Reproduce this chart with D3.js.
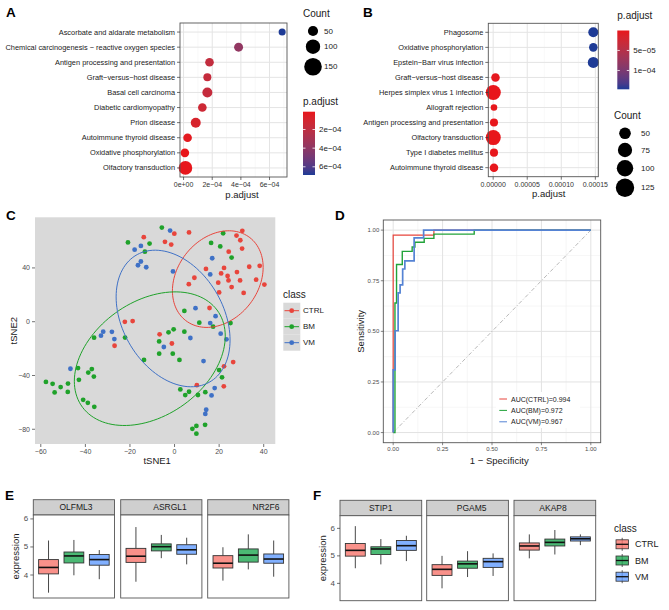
<!DOCTYPE html>
<html>
<head>
<meta charset="utf-8">
<script src="https://cdn.jsdelivr.net/npm/d3@7"></script>
<style>
  body { margin: 0; background: #fff; }
  svg { font-family: "Liberation Sans", Arial, Helvetica, sans-serif; }
</style>
</head>
<body>
<svg id="fig" width="669" height="610"></svg>
<script>
// ---------- data: panel A (KEGG enrichment) ----------
var termsA = ["Ascorbate and aldarate metabolism", "Chemical carcinogenesis \u2212 reactive oxygen species",
  "Antigen processing and presentation", "Graft\u2212versus\u2212host disease", "Basal cell carcinoma",
  "Diabetic cardiomyopathy", "Prion disease", "Autoimmune thyroid disease", "Oxidative phosphorylation",
  "Olfactory transduction"];
var padjA = [6.88e-4, 3.84e-4, 1.81e-4, 1.66e-4, 1.66e-4, 1.31e-4, 0.85e-4, 0.28e-4, 0.09e-4, 0.13e-4];
var countA = [24, 39, 36, 31, 48, 36, 48, 36, 36, 90];
var ticksA = [0, 2e-4, 4e-4, 6e-4];
var tickLabelsA = ["0e+00", "2e\u221204", "4e\u221204", "6e\u221204"];
var barTicksA = [2e-4, 4e-4, 6e-4];
var barLabelsA = ["2e\u221204", "4e\u221204", "6e\u221204"];
var countBreaksA = [50, 100, 150];

// ---------- data: panel B ----------
var termsB = ["Phagosome", "Oxidative phosphorylation", "Epstein\u2212Barr virus infection",
  "Graft\u2212versus\u2212host disease", "Herpes simplex virus 1 infection", "Allograft rejection",
  "Antigen processing and presentation", "Olfactory transduction", "Type I diabetes mellitus",
  "Autoimmune thyroid disease"];
var padjB = [1.47e-4, 1.47e-4, 1.47e-4, 0.34e-5, 0.02e-5, 0.12e-5, 0.12e-5, 0.02e-5, 0.12e-5, 0.12e-5];
var countB = [37, 27, 45, 27, 83, 16, 24, 83, 24, 27];
var ticksB = [0, 5e-5, 1e-4, 1.5e-4];
var tickLabelsB = ["0.00000", "0.00005", "0.00010", "0.00015"];
var barTicksB = [5e-5, 1e-4];
var barLabelsB = ["5e\u221205", "1e\u221204"];
var countBreaksB = [50, 75, 100, 125];

// ---------- data: panel C (tSNE) ----------
var classes = ["CTRL", "BM", "VM"];
var tsneCTRL = [[-0.1,65.5],[6.5,66.4],[-13.8,62.9],[-4.3,59.4],[-1.5,57.4],[30.4,67.6],[27.8,64.1],[29.5,60.6],
  [30.3,54.4],[24.3,52.1],[33.5,40.9],[38.2,41.6],[22.2,40.0],[14.1,39.3],[28.0,36.9],[20.9,35.9],[23.8,34.0],
  [8.9,32.7],[24.2,30.7],[29.4,30.7],[36.6,31.3],[19.6,29.0],[6.4,27.9],[40.3,27.6],[25.6,25.8],[31.0,21.4],
  [20.0,21.8],[15.7,10.2],[-22.3,-0.1],[-18.8,0.5],[-6.7,-9.4],[-26.9,-17.9],[-1.2,-16.2],[26.3,-30.0],
  [22.2,-33.2],[10.0,-47.2],[22.1,-48.1]];
var tsneBM = [[-5.7,70.0],[-20.9,59.0],[-11.2,58.1],[-13.3,52.1],[21.8,65.8],[16.4,58.6],[20.5,56.0],[25.6,47.7],
  [4.4,8.0],[11.1,-0.7],[17.3,-3.7],[25.1,-1.0],[-2.7,-7.9],[-0.4,-5.7],[4.4,-7.4],[-22.2,-11.8],[-36.1,-11.9],
  [-6.9,-14.7],[-6.9,-23.8],[-0.8,-23.8],[2.2,-28.4],[-13.7,-28.4],[20.0,-36.0],[-43.3,-34.5],[-37.1,-35.2],
  [-38.7,-37.8],[-36.2,-40.8],[-42.9,-43.2],[21.3,-41.4],[-57.7,-44.8],[-54.7,-46.2],[-51.1,-48.6],[-47.8,-46.0],
  [-53.8,-52.6],[-47.9,-52.2],[2.6,-50.4],[6.5,-52.1],[13.8,-52.4],[4.8,-54.6],[10.5,-54.5],[-41.0,-58.1],
  [-38.9,-60.3],[-36.0,-63.3],[13.7,-76.7],[9.8,-77.5],[8.0,-79.7],[9.8,-83.3]];
var tsneVM = [[-2.0,67.8],[-15.1,56.4],[-17.9,53.6],[-15.1,44.8],[-16.4,42.0],[-12.7,40.5],[-0.7,37.4],[16.9,47.2],
  [16.0,35.2],[9.4,10.1],[18.4,4.1],[16.0,-1.0],[20.7,-8.9],[7.1,-12.1],[23.3,-13.1],[-4.8,-18.8],[-27.0,-12.9],
  [-33.0,-10.4],[-32.0,-7.4],[-28.1,-7.5],[-46.7,-35.0],[13.0,-29.3],[18.0,-49.4],[16.6,-54.8],[14.2,-65.5],
  [13.8,-68.6]];
// ellipse centre and covariance [sxx, sxy, syy], in tSNE units
var ellipseCenter = [[19.4, 31.7], [-11.1, -27.5], [-0.65, 2.4]];
var ellipseCov = [[414, 178, 1292], [1146, 568, 2470], [653, -410, 2581]];
var ticksCx = [-60, -40, -20, 0, 20, 40];
var ticksCy = [-80, -40, 0, 40];

// ---------- data: panel D (ROC) ----------
var rocFprCTRL = [0, 0.206, 1];
var rocTprCTRL = [0, 0.975, 1];
var rocFprBM = [0, 0.009, 0.017, 0.046, 0.096, 0.11, 0.157, 0.206, 0.41, 1];
var rocTprBM = [0, 0, 0.64, 0.83, 0.895, 0.917, 0.94, 0.959, 0.98, 1];
var rocFprVM = [0, 0.01, 0.025, 0.035, 0.048, 0.059, 0.106, 0.154, 1];
var rocTprVM = [0, 0.31, 0.503, 0.69, 0.73, 0.808, 0.848, 0.962, 1];
var aucLabels = ["AUC(CTRL)=0.994", "AUC(BM)=0.972", "AUC(VM)=0.967"];
var ticksD = [0, 0.25, 0.5, 0.75, 1];

// ---------- data: panels E, F (boxplots: [low whisker, q1, median, q3, high whisker]) ----------
var genesE = ["OLFML3", "ASRGL1", "NR2F6"];
var boxE = [
  [[3.37, 4.04, 4.27, 4.55, 5.23], [3.99, 4.43, 4.68, 4.82, 5.25], [3.85, 4.35, 4.55, 4.73, 4.89]],
  [[3.76, 4.45, 4.67, 4.95, 5.71], [4.60, 4.86, 5.01, 5.11, 5.43], [4.38, 4.74, 4.90, 5.08, 5.33]],
  [[3.80, 4.25, 4.42, 4.69, 4.99], [4.20, 4.46, 4.71, 4.93, 5.45], [3.94, 4.42, 4.57, 4.75, 5.23]]];
var genesF = ["STIP1", "PGAM5", "AKAP8"];
var boxF = [
  [[4.55, 4.99, 5.20, 5.45, 6.08], [4.69, 5.05, 5.25, 5.33, 5.61], [4.81, 5.20, 5.37, 5.56, 5.73]],
  [[3.82, 4.29, 4.51, 4.68, 5.00], [4.23, 4.55, 4.71, 4.81, 5.17], [4.27, 4.58, 4.79, 4.91, 5.09]],
  [[4.91, 5.21, 5.36, 5.47, 5.78], [5.05, 5.36, 5.49, 5.61, 5.94], [5.39, 5.54, 5.62, 5.69, 5.78]]];
var ticksBox = [4, 5, 6];

// ---------- styles ----------
var pointColors = {CTRL: "#e8453c", BM: "#1fa22a", VM: "#3f71c6"};
var rocColors = {CTRL: "#e8453c", BM: "#22a33a", VM: "#5583d4"};
var boxFill = {CTRL: "#F8766D", BM: "#1ea851", VM: "#619CFF"};
var lowCol = "#e8161b", highCol = "#1e3b96";

var svg = d3.select("#fig");

function label(g, x, y, s, size, opt) {
  opt = opt || {};
  return g.append("text").attr("x", x).attr("y", y).text(s)
    .attr("font-size", size)
    .attr("fill", opt.fill || "#1a1a1a")
    .attr("text-anchor", opt.anchor || "start")
    .attr("font-weight", opt.weight || "normal")
    .attr("dominant-baseline", "central");
}

// ================= A & B: dot plots =================
function dotPanel(cfg) {
  var g = svg.append("g");
  var n = cfg.terms.length;
  var lo = d3.min(cfg.padj), hi = d3.max(cfg.padj), pad = (hi - lo) * 0.05;
  var x = d3.scaleLinear().domain([lo - pad, hi + pad]).range([cfg.left, cfg.right]);
  var y = d3.scaleLinear().domain([0.4, n + 0.6]).range([cfg.top, cfg.bottom]);
  var size = d3.scaleSqrt().domain([0, cfg.sizeMax]).range([0, cfg.rMax]);
  var color = d3.scaleLinear().domain([lo, hi]).range([lowCol, highCol]).interpolate(d3.interpolateLab);

  var step = cfg.ticks[1] - cfg.ticks[0];
  var minor = d3.range(cfg.ticks[0] - step / 2, hi + pad, step).filter(function(v) { return v > lo - pad; });
  g.selectAll(".minor").data(minor).enter().append("line")
    .attr("x1", x).attr("x2", x).attr("y1", cfg.top).attr("y2", cfg.bottom)
    .attr("stroke", "#f0f0f0").attr("stroke-width", 0.5);
  g.selectAll(".vmaj").data(cfg.ticks).enter().append("line")
    .attr("x1", x).attr("x2", x).attr("y1", cfg.top).attr("y2", cfg.bottom)
    .attr("stroke", "#e4e4e4").attr("stroke-width", 1);
  g.selectAll(".hmaj").data(cfg.terms).enter().append("line")
    .attr("x1", cfg.left).attr("x2", cfg.right)
    .attr("y1", function(d, i) { return y(i + 1); }).attr("y2", function(d, i) { return y(i + 1); })
    .attr("stroke", "#e4e4e4").attr("stroke-width", 1);

  g.selectAll("circle.pt").data(cfg.terms).enter().append("circle")
    .attr("cx", function(d, i) { return x(cfg.padj[i]); })
    .attr("cy", function(d, i) { return y(i + 1); })
    .attr("r", function(d, i) { return size(cfg.counts[i]); })
    .attr("fill", function(d, i) { return color(cfg.padj[i]); });

  g.append("rect").attr("x", cfg.left).attr("y", cfg.top)
    .attr("width", cfg.right - cfg.left).attr("height", cfg.bottom - cfg.top)
    .attr("fill", "none").attr("stroke", "#555").attr("stroke-width", 0.9);

  // y axis labels
  cfg.terms.forEach(function(t, i) {
    g.append("line").attr("x1", cfg.left - 3).attr("x2", cfg.left)
      .attr("y1", y(i + 1)).attr("y2", y(i + 1)).attr("stroke", "#333").attr("stroke-width", 0.7);
    label(g, cfg.left - 5, y(i + 1), t, 7.4, {anchor: "end"});
  });
  // x axis
  cfg.ticks.forEach(function(t, i) {
    g.append("line").attr("x1", x(t)).attr("x2", x(t))
      .attr("y1", cfg.bottom).attr("y2", cfg.bottom + 3).attr("stroke", "#333").attr("stroke-width", 0.7);
    label(g, x(t), cfg.bottom + 7.5, cfg.tickLabels[i], 7, {anchor: "middle", fill: "#333"});
  });
  label(g, cfg.titleX, cfg.bottom + 17, "p.adjust", 9.5, {anchor: "middle"});

  // colour bar
  var bar = cfg.bar;
  var gid = "grad" + cfg.id;
  var grad = svg.append("defs").append("linearGradient").attr("id", gid)
    .attr("x1", 0).attr("y1", 0).attr("x2", 0).attr("y2", 1);
  d3.range(0, 1.0001, 0.1).forEach(function(f) {
    grad.append("stop").attr("offset", f).attr("stop-color", color(lo + f * (hi - lo)));
  });
  label(g, bar.x, bar.titleY, "p.adjust", 10, {});
  g.append("rect").attr("x", bar.x).attr("y", bar.top).attr("width", 12)
    .attr("height", bar.bottom - bar.top).attr("fill", "url(#" + gid + ")");
  var by = d3.scaleLinear().domain([lo, hi]).range([bar.top, bar.bottom]);
  cfg.barTicks.forEach(function(t, i) {
    g.append("line").attr("x1", bar.x).attr("x2", bar.x + 2.5).attr("y1", by(t)).attr("y2", by(t))
      .attr("stroke", "#fff").attr("stroke-width", 0.8);
    g.append("line").attr("x1", bar.x + 9.5).attr("x2", bar.x + 12).attr("y1", by(t)).attr("y2", by(t))
      .attr("stroke", "#fff").attr("stroke-width", 0.8);
    label(g, bar.x + 16, by(t), cfg.barLabels[i], 8, {});
  });

  // size legend
  var sl = cfg.sizeLegend;
  label(g, sl.x, sl.titleY, "Count", 10, {});
  cfg.countBreaks.forEach(function(c, i) {
    g.append("circle").attr("cx", sl.cx).attr("cy", sl.ys[i]).attr("r", size(c)).attr("fill", "#000");
    label(g, sl.lx, sl.ys[i], String(c), 8, {});
  });
}

dotPanel({
  id: "A", terms: termsA, padj: padjA, counts: countA, ticks: ticksA, tickLabels: tickLabelsA,
  left: 180, right: 287, top: 23, bottom: 177, titleX: 242, sizeMax: 150, rMax: 8.8,
  bar: {x: 303, top: 111.7, bottom: 175, titleY: 101.5}, barTicks: barTicksA, barLabels: barLabelsA,
  sizeLegend: {x: 303, titleY: 13.5, cx: 313, lx: 324, ys: [31, 46.7, 66.7]}, countBreaks: countBreaksA
});
dotPanel({
  id: "B", terms: termsB, padj: padjB, counts: countB, ticks: ticksB, tickLabels: tickLabelsB,
  left: 488.3, right: 598.3, top: 23.3, bottom: 176.7, titleX: 548.7, sizeMax: 125, rMax: 9.2,
  bar: {x: 617.3, top: 30.5, bottom: 89.3, titleY: 15}, barTicks: barTicksB, barLabels: barLabelsB,
  sizeLegend: {x: 614, titleY: 115.7, cx: 625, lx: 641, ys: [133.3, 150, 168.3, 187.7]}, countBreaks: countBreaksB
});

// ================= C: tSNE =================
function tsnePanel() {
  var g = svg.append("g");
  var L = 35, R = 275.3, T = 217.3, B = 444;
  var all = tsneCTRL.concat(tsneBM, tsneVM);
  var xe = d3.extent(all, function(d) { return d[0]; }), ye = d3.extent(all, function(d) { return d[1]; });
  var px = (xe[1] - xe[0]) * 0.05, py = (ye[1] - ye[0]) * 0.05;
  var x = d3.scaleLinear().domain([xe[0] - px, xe[1] + px]).range([L, R]);
  var y = d3.scaleLinear().domain([ye[0] - py, ye[1] + py]).range([B, T]);

  g.append("rect").attr("x", L).attr("y", T).attr("width", R - L).attr("height", B - T).attr("fill", "#d9d9d9");
  svg.append("defs").append("clipPath").attr("id", "clipC")
    .append("rect").attr("x", L).attr("y", T).attr("width", R - L).attr("height", B - T);

  var sets = [tsneCTRL, tsneBM, tsneVM];
  sets.forEach(function(pts, k) {
    g.selectAll(".p" + k).data(pts).enter().append("circle")
      .attr("cx", function(d) { return x(d[0]); })
      .attr("cy", function(d) { return y(d[1]); })
      .attr("r", 2.4).attr("fill", pointColors[classes[k]]);
  });

  var line = d3.line().x(function(d) { return x(d[0]); }).y(function(d) { return y(d[1]); });
  ellipseCenter.forEach(function(c, k) {
    var s = ellipseCov[k];
    var a = Math.sqrt(s[0]), b = s[1] / a, cc = Math.sqrt(s[2] - b * b);
    var ring = d3.range(0, 2 * Math.PI + 0.001, Math.PI / 60).map(function(t) {
      return [c[0] + a * Math.cos(t), c[1] + b * Math.cos(t) + cc * Math.sin(t)];
    });
    g.append("path").attr("d", line(ring)).attr("fill", "none").attr("clip-path", "url(#clipC)")
      .attr("stroke", pointColors[classes[k]]).attr("stroke-width", 1);
  });

  ticksCx.forEach(function(t) {
    g.append("line").attr("x1", x(t)).attr("x2", x(t)).attr("y1", B).attr("y2", B + 3)
      .attr("stroke", "#333").attr("stroke-width", 0.7);
    label(g, x(t), B + 7.5, t < 0 ? "\u2212" + (-t) : String(t), 7, {anchor: "middle", fill: "#4d4d4d"});
  });
  ticksCy.forEach(function(t) {
    g.append("line").attr("x1", L - 3).attr("x2", L).attr("y1", y(t)).attr("y2", y(t))
      .attr("stroke", "#333").attr("stroke-width", 0.7);
    label(g, L - 5, y(t), t < 0 ? "\u2212" + (-t) : String(t), 7, {anchor: "end", fill: "#4d4d4d"});
  });
  label(g, (L + R) / 2 + 2, 460.5, "tSNE1", 9.5, {anchor: "middle"});
  label(g, 0, 0, "tSNE2", 9.5, {anchor: "middle"}).attr("transform", "translate(13," + ((T + B) / 2) + ") rotate(-90)");

  // legend
  label(g, 283, 294, "class", 10, {});
  classes.forEach(function(c, i) {
    var cy = 310.7 + i * 16;
    g.append("rect").attr("x", 283.3).attr("y", cy - 8).attr("width", 17).attr("height", 16).attr("fill", "#d9d9d9");
    g.append("line").attr("x1", 284.5).attr("x2", 299).attr("y1", cy).attr("y2", cy)
      .attr("stroke", pointColors[c]).attr("stroke-width", 1);
    g.append("circle").attr("cx", 291.7).attr("cy", cy).attr("r", 2.4).attr("fill", pointColors[c]);
    label(g, 303, cy, c, 8, {});
  });
}
tsnePanel();

// ================= D: ROC =================
function rocPanel() {
  var g = svg.append("g");
  var L = 383.3, R = 600.7, T = 220, B = 442.7;
  var x = d3.scaleLinear().domain([-0.05, 1.05]).range([L, R]);
  var y = d3.scaleLinear().domain([-0.05, 1.05]).range([B, T]);
  var minor = [0.125, 0.375, 0.625, 0.875];
  minor.forEach(function(t) {
    g.append("line").attr("x1", x(t)).attr("x2", x(t)).attr("y1", T).attr("y2", B).attr("stroke", "#f0f0f0").attr("stroke-width", 0.6);
    g.append("line").attr("x1", L).attr("x2", R).attr("y1", y(t)).attr("y2", y(t)).attr("stroke", "#f0f0f0").attr("stroke-width", 0.6);
  });
  ticksD.forEach(function(t) {
    g.append("line").attr("x1", x(t)).attr("x2", x(t)).attr("y1", T).attr("y2", B).attr("stroke", "#e2e2e2").attr("stroke-width", 1);
    g.append("line").attr("x1", L).attr("x2", R).attr("y1", y(t)).attr("y2", y(t)).attr("stroke", "#e2e2e2").attr("stroke-width", 1);
  });
  g.append("line").attr("x1", x(0)).attr("y1", y(0)).attr("x2", x(1)).attr("y2", y(1))
    .attr("stroke", "#9a9a9a").attr("stroke-width", 0.7).attr("stroke-dasharray", "4,2,1,2");

  var curves = [[rocFprCTRL, rocTprCTRL], [rocFprBM, rocTprBM], [rocFprVM, rocTprVM]];
  var line = d3.line().curve(d3.curveStepBefore)
    .x(function(d) { return x(d[0]); }).y(function(d) { return y(d[1]); });
  var widths = [1.2, 1.4, 1.7];
  curves.forEach(function(c, k) {
    var pts = c[0].map(function(f, i) { return [f, c[1][i]]; });
    g.append("path").attr("d", line(pts)).attr("fill", "none")
      .attr("stroke", rocColors[classes[k]]).attr("stroke-width", widths[k]);
  });

  g.append("rect").attr("x", L).attr("y", T).attr("width", R - L).attr("height", B - T)
    .attr("fill", "none").attr("stroke", "#555").attr("stroke-width", 0.9);

  ticksD.forEach(function(t) {
    var s = t.toFixed(2);
    g.append("line").attr("x1", x(t)).attr("x2", x(t)).attr("y1", B).attr("y2", B + 2.5).attr("stroke", "#333").attr("stroke-width", 0.6);
    label(g, x(t), B + 6.5, s, 6, {anchor: "middle", fill: "#4d4d4d"});
    g.append("line").attr("x1", L - 2.5).attr("x2", L).attr("y1", y(t)).attr("y2", y(t)).attr("stroke", "#333").attr("stroke-width", 0.6);
    label(g, L - 4, y(t), s, 6, {anchor: "end", fill: "#4d4d4d"});
  });
  label(g, 499.3, 460, "1 \u2212 Specificity", 9.5, {anchor: "middle"});
  label(g, 0, 0, "Sensitivity", 9.5, {anchor: "middle"}).attr("transform", "translate(360," + ((T + B) / 2) + ") rotate(-90)");

  g.append("rect").attr("x", 496).attr("y", 392).attr("width", 84).attr("height", 36).attr("fill", "#fff");
  aucLabels.forEach(function(s, i) {
    var ly = 399 + i * 11.4;
    g.append("line").attr("x1", 499.3).attr("x2", 507).attr("y1", ly).attr("y2", ly)
      .attr("stroke", rocColors[classes[i]]).attr("stroke-width", 1);
    label(g, 511, ly, s, 7, {});
  });
}
rocPanel();

// ================= E, F: boxplots =================
function boxPanels(cfg) {
  var g = svg.append("g");
  var y = d3.scaleLinear().domain(cfg.yDomain).range([cfg.bottom, cfg.top]);
  cfg.genes.forEach(function(gene, j) {
    var L = cfg.lefts[j], R = L + cfg.width;
    var x = d3.scaleLinear().domain([0.4, 3.6]).range([L, R]);
    var hw = (x(1.39) - x(1)) ;
    g.append("rect").attr("x", L).attr("y", cfg.stripTop).attr("width", R - L).attr("height", cfg.top - cfg.stripTop)
      .attr("fill", "#cfcfcf").attr("stroke", "#555").attr("stroke-width", 0.9);
    label(g, cfg.stripX[j], (cfg.stripTop + cfg.top) / 2, gene, 8.5, {anchor: "middle"});
    g.append("rect").attr("x", L).attr("y", cfg.top).attr("width", R - L).attr("height", cfg.bottom - cfg.top)
      .attr("fill", "#fff").attr("stroke", "#555").attr("stroke-width", 0.9);
    cfg.stats[j].forEach(function(s, k) {
      var cx = x(k + 1);
      g.append("line").attr("x1", cx).attr("x2", cx).attr("y1", y(s[0])).attr("y2", y(s[1]))
        .attr("stroke", "#333").attr("stroke-width", 0.9);
      g.append("line").attr("x1", cx).attr("x2", cx).attr("y1", y(s[3])).attr("y2", y(s[4]))
        .attr("stroke", "#333").attr("stroke-width", 0.9);
      g.append("rect").attr("x", cx - hw).attr("y", y(s[3])).attr("width", 2 * hw).attr("height", y(s[1]) - y(s[3]))
        .attr("fill", boxFill[classes[k]]).attr("fill-opacity", 0.8)
        .attr("stroke", "#333").attr("stroke-width", 0.9);
      g.append("line").attr("x1", cx - hw).attr("x2", cx + hw).attr("y1", y(s[2])).attr("y2", y(s[2]))
        .attr("stroke", "#111").attr("stroke-width", 1.6);
    });
  });
  var L0 = cfg.lefts[0];
  ticksBox.forEach(function(t) {
    g.append("line").attr("x1", L0 - 3).attr("x2", L0).attr("y1", y(t)).attr("y2", y(t)).attr("stroke", "#333").attr("stroke-width", 0.7);
    label(g, L0 - 5, y(t), String(t), 8, {anchor: "end", fill: "#4d4d4d"});
  });
  label(g, 0, 0, "expression", 9.5, {anchor: "middle"})
    .attr("transform", "translate(" + cfg.titleX + "," + ((cfg.top + cfg.bottom) / 2) + ") rotate(-90)");
}
boxPanels({genes: genesE, stats: boxE, lefts: [33.3, 120.7, 207.7], width: 81.2, stripTop: 499.7, top: 515,
  bottom: 598, yDomain: [3.18, 6.14], titleX: 15, stripX: [76, 170, 266]});
boxPanels({genes: genesF, stats: boxF, lefts: [340, 426.7, 514], width: 81.7, stripTop: 500.3, top: 515.7,
  bottom: 600.7, yDomain: [3.37, 6.46], titleX: 322, stripX: [380.7, 471.7, 553]});

// legend for F
(function() {
  var g = svg.append("g");
  label(g, 614, 528, "class", 10, {});
  classes.forEach(function(c, i) {
    var cy = 544.3 + i * 16.2;
    g.append("line").attr("x1", 622.2).attr("x2", 622.2).attr("y1", cy - 6.5).attr("y2", cy + 6.5)
      .attr("stroke", "#333").attr("stroke-width", 0.8);
    g.append("rect").attr("x", 616).attr("y", cy - 4.5).attr("width", 12.4).attr("height", 9)
      .attr("fill", boxFill[c]).attr("fill-opacity", 0.8).attr("stroke", "#333").attr("stroke-width", 0.8);
    g.append("line").attr("x1", 616).attr("x2", 628.4).attr("y1", cy).attr("y2", cy)
      .attr("stroke", "#111").attr("stroke-width", 1.3);
    label(g, 635, cy, c, 9, {});
  });
})();

// panel letters
[["A", 6, 12.7], ["B", 363, 12.7], ["C", 6, 215], ["D", 335, 215], ["E", 5, 495], ["F", 313, 495]].forEach(function(p) {
  label(svg, p[1], p[2], p[0], 13.5, {weight: "bold", fill: "#000"});
});
</script>
</body>
</html>
